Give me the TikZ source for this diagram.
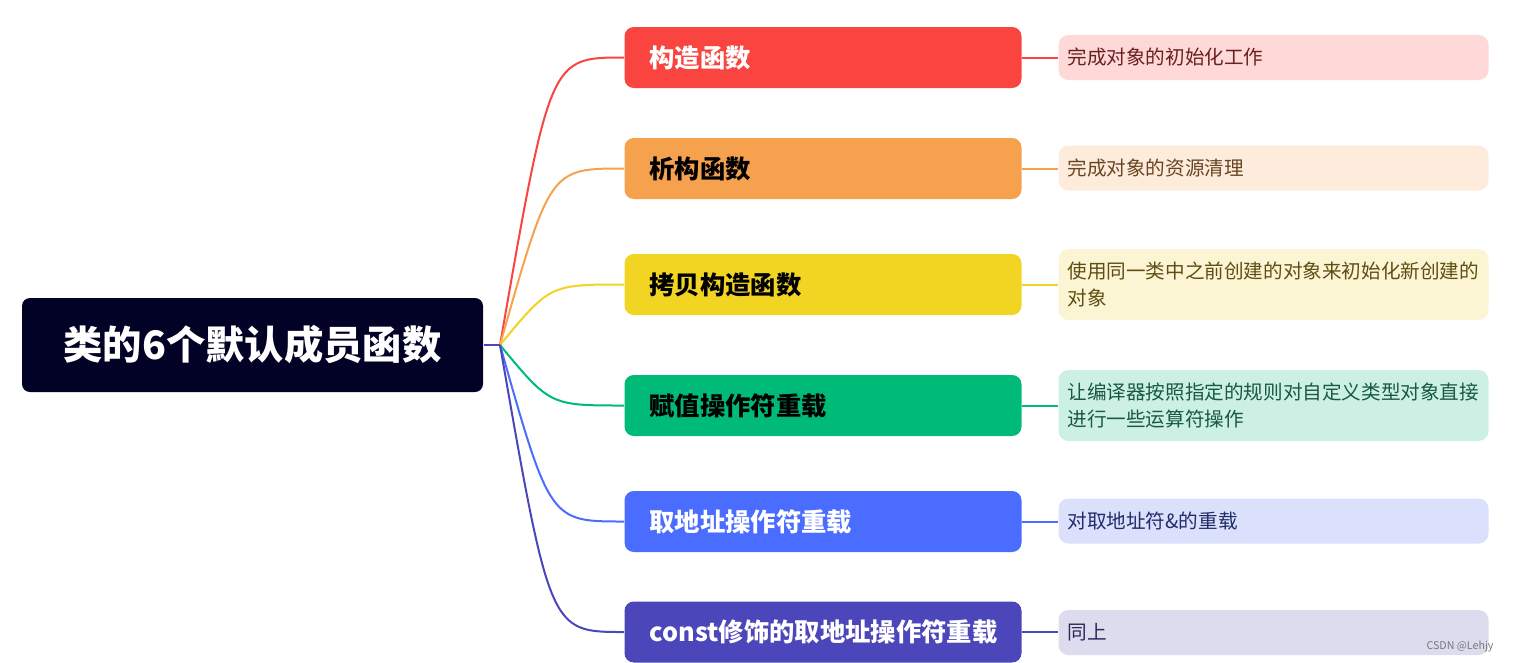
\documentclass[tikz,border=0pt]{standalone}
\usepackage{fontspec}
\setmainfont{Noto Sans CJK SC}
\usepackage{tikz}
\usetikzlibrary{positioning}
\usepackage{xcolor}
\definecolor{rootfill}{RGB}{2,1,38}
\definecolor{redB}{RGB}{250,68,64}
\definecolor{orangeB}{RGB}{245,161,77}
\definecolor{yellowB}{RGB}{242,212,34}
\definecolor{greenB}{RGB}{0,186,120}
\definecolor{blueB}{RGB}{74,108,255}
\definecolor{purpleB}{RGB}{75,70,185}
\definecolor{redL}{RGB}{255,216,216}
\definecolor{orangeL}{RGB}{253,235,220}
\definecolor{yellowL}{RGB}{252,245,211}
\definecolor{greenL}{RGB}{204,241,228}
\definecolor{blueL}{RGB}{219,224,252}
\definecolor{purpleL}{RGB}{220,220,238}
\definecolor{redT}{RGB}{105,32,32}
\definecolor{orangeT}{RGB}{105,70,35}
\definecolor{yellowT}{RGB}{95,78,20}
\definecolor{greenT}{RGB}{25,88,65}
\definecolor{blueT}{RGB}{32,45,105}
\definecolor{purpleT}{RGB}{42,42,88}
\definecolor{markgray}{RGB}{120,120,120}
\tikzset{every picture/.style={line width=0.75pt}}

\begin{document}
\begin{tikzpicture}[x=0.75pt,y=0.75pt,yscale=-1,xscale=1,
  rootbox/.style={fill=rootfill, rounded corners=6pt, text=white, inner sep=0pt,
    minimum width=345.75pt, minimum height=70.5pt, font=\fontsize{29.5}{35}\selectfont\bfseries},
  branchbox/.style={anchor=west, rounded corners=7pt, align=left, text width=260.25pt,
    inner xsep=18.75pt, inner ysep=0pt, minimum height=45.75pt, font=\fontsize{19}{23}\selectfont\bfseries},
  leafbox/.style={anchor=west, rounded corners=7.5pt, align=left, text width=309pt,
    inner xsep=6.75pt, inner ysep=0pt, minimum height=33.75pt, font=\fontsize{14.7}{20}\selectfont},
  twoline/.style={minimum height=53.25pt},
  link/.style={line width=1.5pt}
]
\useasboundingbox (0,0) rectangle (1532,662);

%Shape: Rounded Rect [root]
\node [rootbox] (root) at (252.5,345) {类的6个默认成员函数};
\coordinate (hub) at (500,345);

%Shape: Rounded Rect [branches]
\node [branchbox, fill=redB, text=white] (ctor) at (624,57.5) {构造函数};
\node [branchbox, fill=orangeB, text=black] (dtor) at (624,168.5) {析构函数};
\node [branchbox, fill=yellowB, text=black] (copyctor) at (624,284.5) {拷贝构造函数};
\node [branchbox, fill=greenB, text=black] (assign) at (624,405.5) {赋值操作符重载};
\node [branchbox, fill=blueB, text=white] (addrop) at (624,521.5) {取地址操作符重载};
\node [branchbox, fill=purpleB, text=white] (caddrop) at (624,632) {const修饰的取地址操作符重载};

%Shape: Rounded Rect [notes]
\node [leafbox, fill=redL, text=redT] (ctornote) at (1058,57.5) {完成对象的初始化工作};
\node [leafbox, fill=orangeL, text=orangeT] (dtornote) at (1058,168) {完成对象的资源清理};
\node [leafbox, twoline, fill=yellowL, text=yellowT] (copynote) at (1058,284.5) {使用同一类中之前创建的对象来初始化新创建的\\对象};
\node [leafbox, twoline, fill=greenL, text=greenT] (assignnote) at (1058,405.5) {让编译器按照指定的规则对自定义类型对象直接\\进行一些运算符操作};
\node [leafbox, fill=blueL, text=blueT] (addrnote) at (1058,521) {对取地址符\&的重载};
\node [leafbox, fill=purpleL, text=purpleT] (caddrnote) at (1058,632.5) {同上};

%Curve Lines
\draw [link, redB] (hub) .. controls +(50,-287.5) and +(-74,0) .. (ctor.west);
\draw [link, orangeB] (hub) .. controls +(50,-176.5) and +(-74,0) .. (dtor.west);
\draw [link, yellowB] (hub) .. controls +(50,-60.5) and +(-74,0) .. (copyctor.west);
\draw [link, greenB] (hub) .. controls +(50,60.5) and +(-74,0) .. (assign.west);
\draw [link, blueB] (hub) .. controls +(50,176.5) and +(-74,0) .. (addrop.west);
\draw [link, purpleB] (hub) .. controls +(50,287) and +(-74,0) .. (caddrop.west);
\draw [link, purpleB] (root.east) -- (hub);

%Straight Lines
\draw [link, redB] (ctor.east) -- (ctornote.west |- ctor.east);
\draw [link, orangeB] (dtor.east) -- (dtornote.west |- dtor.east);
\draw [link, yellowB] (copyctor.east) -- (copynote.west |- copyctor.east);
\draw [link, greenB] (assign.east) -- (assignnote.west |- assign.east);
\draw [link, blueB] (addrop.east) -- (addrnote.west |- addrop.east);
\draw [link, purpleB] (caddrop.east) -- (caddrnote.west |- caddrop.east);

% Text Node
\node [anchor=east, inner sep=0pt, text=markgray, font=\fontsize{8}{10}\selectfont] (mark) at (1494,647) {CSDN @Lehjy};

\end{tikzpicture}
\end{document}
